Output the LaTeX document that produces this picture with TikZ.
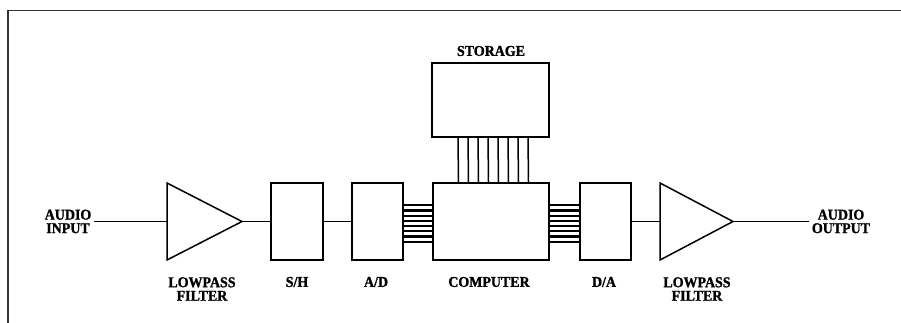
\documentclass[tikz,border=0pt]{standalone}
\usepackage{fontspec}
\setmainfont[BoldFeatures={FakeBold=1.3,FakeStretch=0.93}]{Liberation Serif}
\begin{document}
\begin{tikzpicture}[x=1pt,y=-1pt,
  blk/.style={draw,line width=1.5pt,rectangle,minimum height=77pt,inner sep=0pt},
  lbl/.style={font=\bfseries\fontsize{15}{13.5}\selectfont,align=center,inner sep=0pt},
  wire/.style={line width=1.4pt},
  hbus/.style={line width=2.1pt},
  vbus/.style={line width=1.5pt},
  frameline/.style={line width=1.6pt,black!80}]
\useasboundingbox (0,0) rectangle (901,323);
% frame
\draw[frameline] (7,10.5) -- (901,10.5);
\draw[frameline] (8,10) -- (8,323);
% boxes
\node[blk,minimum width=52pt] (sh) at (297,221.5) {};
\node[blk,minimum width=51pt] (ad) at (377.5,221.5) {};
\node[blk,minimum width=116pt] (comp) at (491,221.5) {};
\node[blk,minimum width=51pt] (da) at (605.5,221.5) {};
\node[blk,minimum width=117pt,minimum height=74pt] (stor) at (490.5,100) {};
% triangles
\draw[line width=1.5pt,line join=miter] (167,183) -- (242,221.5) -- (167,260) -- cycle;
\coordinate (f1in) at (167,221.5);
\coordinate (f1out) at (242,221.5);
\draw[line width=1.5pt,line join=miter] (660,183) -- (733,221.5) -- (660,260) -- cycle;
\coordinate (f2in) at (660,221.5);
\coordinate (f2out) at (733,221.5);
% labels
\node[lbl] (ain) at (68,221.5) {AUDIO\\INPUT};
\node[lbl] (aout) at (841,221.5) {AUDIO\\OUTPUT};
\node[lbl] (storl) at (491,51) {STORAGE};
\node[lbl] (lp1) at (202,289) {LOWPASS\\FILTER};
\node[lbl] (shl) at (297,282) {S/H};
\node[lbl] (adl) at (376,282) {A/D};
\node[lbl] (compl) at (489,282) {COMPUTER};
\node[lbl] (dal) at (604,282) {D/A};
\node[lbl] (lp2) at (697,289) {LOWPASS\\FILTER};
% wires
\draw[wire] (ain.east) ++(3,0) -- (f1in);
\draw[wire] (f1out) -- (sh.west);
\draw[wire] (sh.east) -- (ad.west);
\draw[wire] (da.east) -- (f2in);
\draw[wire] (f2out) -- ([xshift=-3pt]aout.west);
% buses
\foreach \i in {0,...,7}{
  \pgfmathsetmacro{\dy}{-20.2+5.2*\i}
  \draw[hbus] ([yshift=\dy pt]ad.east) -- ([yshift=\dy pt]comp.west);
  \draw[hbus] ([yshift=\dy pt]comp.east) -- ([yshift=\dy pt]da.west);
  \pgfmathsetmacro{\dx}{-32.5+10*\i}
  \draw[vbus] ([xshift=\dx pt]stor.south) -- ([xshift=\dx pt]comp.north);
}
\end{tikzpicture}
\end{document}
